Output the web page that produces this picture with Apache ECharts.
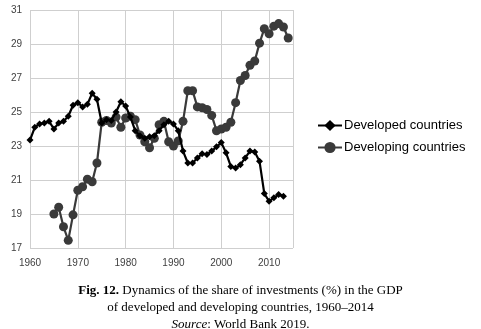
<!DOCTYPE html>
<html><head><meta charset="utf-8">
<script src="https://cdn.jsdelivr.net/npm/echarts@6/dist/echarts.min.js"></script>
<style>html,body{margin:0;padding:0;background:#fff}#c{width:481px;height:329px}</style>
</head><body><div id="c"></div>
<script>
var developedStart = 1960;
var developed = [23.35,24.1,24.3,24.35,24.45,24.0,24.35,24.45,24.75,25.4,
  25.55,25.3,25.45,26.1,25.75,24.35,24.55,24.5,25.0,25.6,
  25.35,24.7,23.9,23.6,23.45,23.55,23.6,23.9,24.25,24.45,
  24.3,23.9,22.7,22.0,22.0,22.3,22.55,22.5,22.7,22.95,
  23.2,22.6,21.8,21.7,21.9,22.3,22.7,22.65,22.1,20.2,
  19.75,19.95,20.15,20.05];
var developingStart = 1965;
var developing = [19.0,19.4,18.25,17.45,18.95,
  20.4,20.6,21.05,20.9,22.0,24.4,24.5,24.35,24.7,24.1,
  24.65,24.75,24.55,23.65,23.25,22.9,23.45,24.25,24.45,23.25,
  23.0,23.3,24.45,26.25,26.25,25.3,25.25,25.15,24.8,23.9,
  24.0,24.1,24.4,25.55,26.85,27.15,27.75,28.0,29.05,29.9,
  29.6,30.05,30.2,30.0,29.35];
var yTicks = [17,19,21,23,25,27,29,31];
var xTicks = [1960,1970,1980,1990,2000,2010];
var seriesNames = ['Developed countries','Developing countries'];

function pairs(start, arr){ return arr.map(function(v,i){ return [start+i, v]; }); }

var chart = echarts.init(document.getElementById('c'), null, {renderer:'canvas'});
chart.setOption({
  animation:false,
  backgroundColor:'#fff',
  title:[
    {left:'center', top:279, text:'{b|Fig. 12.} Dynamics of the share of investments (%) in the GDP',
     textStyle:{fontFamily:'Liberation Serif', fontSize:13, fontWeight:'normal', color:'#000',
       rich:{b:{fontFamily:'Liberation Serif', fontSize:13, fontWeight:'bold', color:'#000'}}}},
    {left:'center', top:296, text:'of developed and developing countries, 1960–2014',
     textStyle:{fontFamily:'Liberation Serif', fontSize:13, fontWeight:'normal', color:'#000'}},
    {left:'center', top:313, text:'{i|Source}: World Bank 2019.',
     textStyle:{fontFamily:'Liberation Serif', fontSize:13, fontWeight:'normal', color:'#000',
       rich:{i:{fontFamily:'Liberation Serif', fontSize:13, fontStyle:'italic', color:'#000'}}}}
  ],
  legend:{
    orient:'vertical', left:312, top:114, itemWidth:24, itemHeight:14, itemGap:9,
    textStyle:{fontFamily:'Liberation Sans', fontSize:13, color:'#000', padding:[0,0,0,-3]},
    data:seriesNames
  },
  grid:{left:30, right:188, top:10, bottom:81, containLabel:false},
  xAxis:{
    type:'value', min:1960, max:2015, interval:10,
    axisLine:{show:false}, axisTick:{show:false},
    splitLine:{show:true, lineStyle:{color:'#cfcfcf', width:1}},
    axisLabel:{fontFamily:'Liberation Sans', fontSize:10, color:'#404040', margin:10,
      formatter:function(v){ return xTicks.indexOf(v)>=0 ? String(v) : ''; }}
  },
  yAxis:{
    type:'value', min:17, max:31, interval:2,
    axisLine:{show:false}, axisTick:{show:false},
    splitLine:{show:true, lineStyle:{color:'#cfcfcf', width:1}},
    axisLabel:{fontFamily:'Liberation Sans', fontSize:10, color:'#404040', margin:8,
      formatter:function(v){ return yTicks.indexOf(v)>=0 ? String(v) : ''; }}
  },
  series:[
    {name:seriesNames[0], type:'line', data:pairs(developedStart, developed),
     symbol:'diamond', symbolSize:7, showAllSymbol:true,
     lineStyle:{color:'#000', width:2.2}, itemStyle:{color:'#000'}, z:3},
    {name:seriesNames[1], type:'line', data:pairs(developingStart, developing),
     symbol:'circle', symbolSize:9, showAllSymbol:true,
     lineStyle:{color:'#3a3a3a', width:2.2}, itemStyle:{color:'#3a3a3a'}, z:2}
  ]
});
</script></body></html>
